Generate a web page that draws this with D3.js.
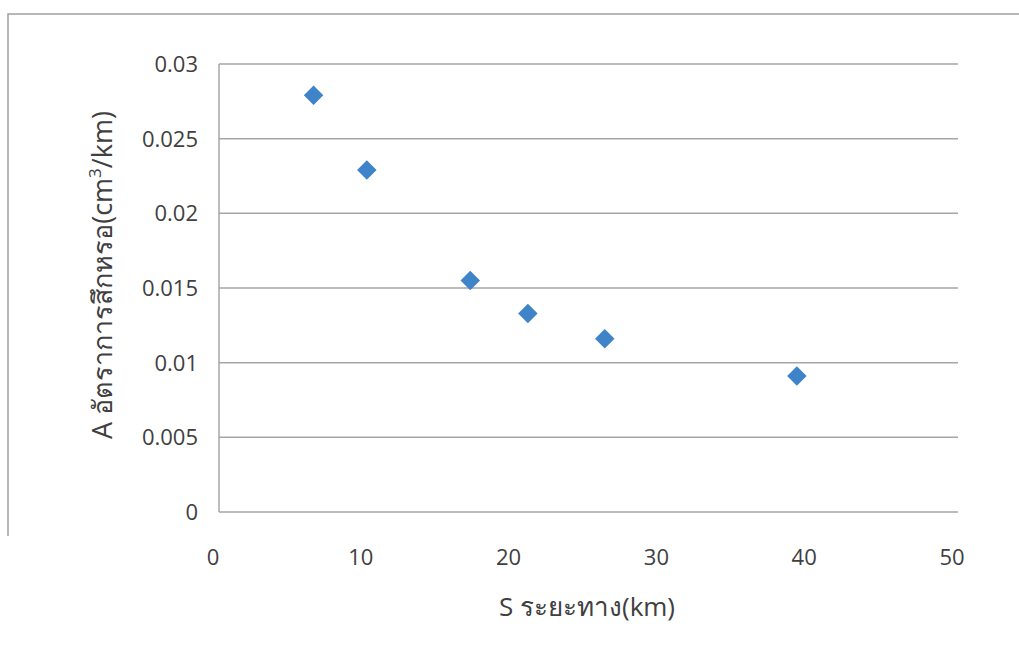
<!DOCTYPE html>
<html>
<head>
<meta charset="utf-8">
<script src="https://cdn.jsdelivr.net/npm/d3@7"></script>
<style>
  body { margin: 0; background: #fff; }
  text { font-family: "Open Sans", "Noto Sans", sans-serif; fill: #404040; }
</style>
</head>
<body>
<svg id="chart"></svg>
<script>
// ระยะทาง (km) และอัตราการสึกหรอ
const distance = [6.4, 10.0, 17.0, 20.9, 26.1, 39.1];
const wearRate = [0.0279, 0.0229, 0.0155, 0.0133, 0.0116, 0.0091];
const xTicks = [0, 10, 20, 30, 40, 50];
const yTicks = [0, 0.005, 0.01, 0.015, 0.02, 0.025, 0.03];

const width = 1019, height = 649;
const margin = { top: 64, right: 61, bottom: 137, left: 219 };

const svg = d3.select('#chart').attr('width', width).attr('height', height);

// 外枠
svg.append('path')
    .attr('d', `M8,536 L8,14 L${width},14`)
    .attr('fill', 'none')
    .attr('stroke', '#a0a0a0')
    .attr('stroke-width', 1.5);

const x = d3.scaleLinear().domain([0, 50]).range([margin.left, width - margin.right]);
const y = d3.scaleLinear().domain([0, 0.03]).range([height - margin.bottom, margin.top]);

// グリッド線
svg.append('g')
    .selectAll('line')
    .data(yTicks)
    .enter().append('line')
    .attr('x1', margin.left)
    .attr('x2', width - margin.right)
    .attr('y1', d => y(d))
    .attr('y2', d => y(d))
    .attr('stroke', '#a6a6a6')
    .attr('stroke-width', 1.5);

// y軸の線
svg.append('line')
    .attr('x1', margin.left).attr('x2', margin.left)
    .attr('y1', y(0.03)).attr('y2', y(0))
    .attr('stroke', '#a6a6a6')
    .attr('stroke-width', 1.5);

// 目盛ラベル
svg.append('g')
    .selectAll('text')
    .data(yTicks)
    .enter().append('text')
    .attr('x', 198)
    .attr('y', d => y(d) + 8)
    .attr('text-anchor', 'end')
    .attr('font-size', '22px')
    .text(d => d === 0 ? '0' : String(+d.toFixed(3)));

svg.append('g')
    .selectAll('text')
    .data(xTicks)
    .enter().append('text')
    .attr('x', d => x(d) - 6)
    .attr('y', 565)
    .attr('text-anchor', 'middle')
    .attr('font-size', '22px')
    .text(d => d);

// 散布点（ひし形）
const data = distance.map((d, i) => ({ s: d, a: wearRate[i] }));
svg.append('g')
    .selectAll('path')
    .data(data)
    .enter().append('path')
    .attr('d', d3.symbol().type(d3.symbolSquare).size(190))
    .attr('transform', d => `translate(${x(d.s)},${y(d.a)}) rotate(45)`)
    .attr('fill', '#3f84c9');

// 軸ラベル
svg.append('text')
    .attr('x', 587)
    .attr('y', 616)
    .attr('text-anchor', 'middle')
    .attr('font-size', '26px')
    .text('S ระยะทาง(km)');

const yl = svg.append('text')
    .attr('transform', 'translate(112, 275) rotate(-90)')
    .attr('text-anchor', 'middle')
    .attr('font-size', '27px');
yl.append('tspan').text('A อัตราการสึกหรอ(cm');
yl.append('tspan').attr('font-size', '17px').attr('dy', -11).text('3');
yl.append('tspan').attr('dy', 11).text('/km)');
</script>
</body>
</html>
